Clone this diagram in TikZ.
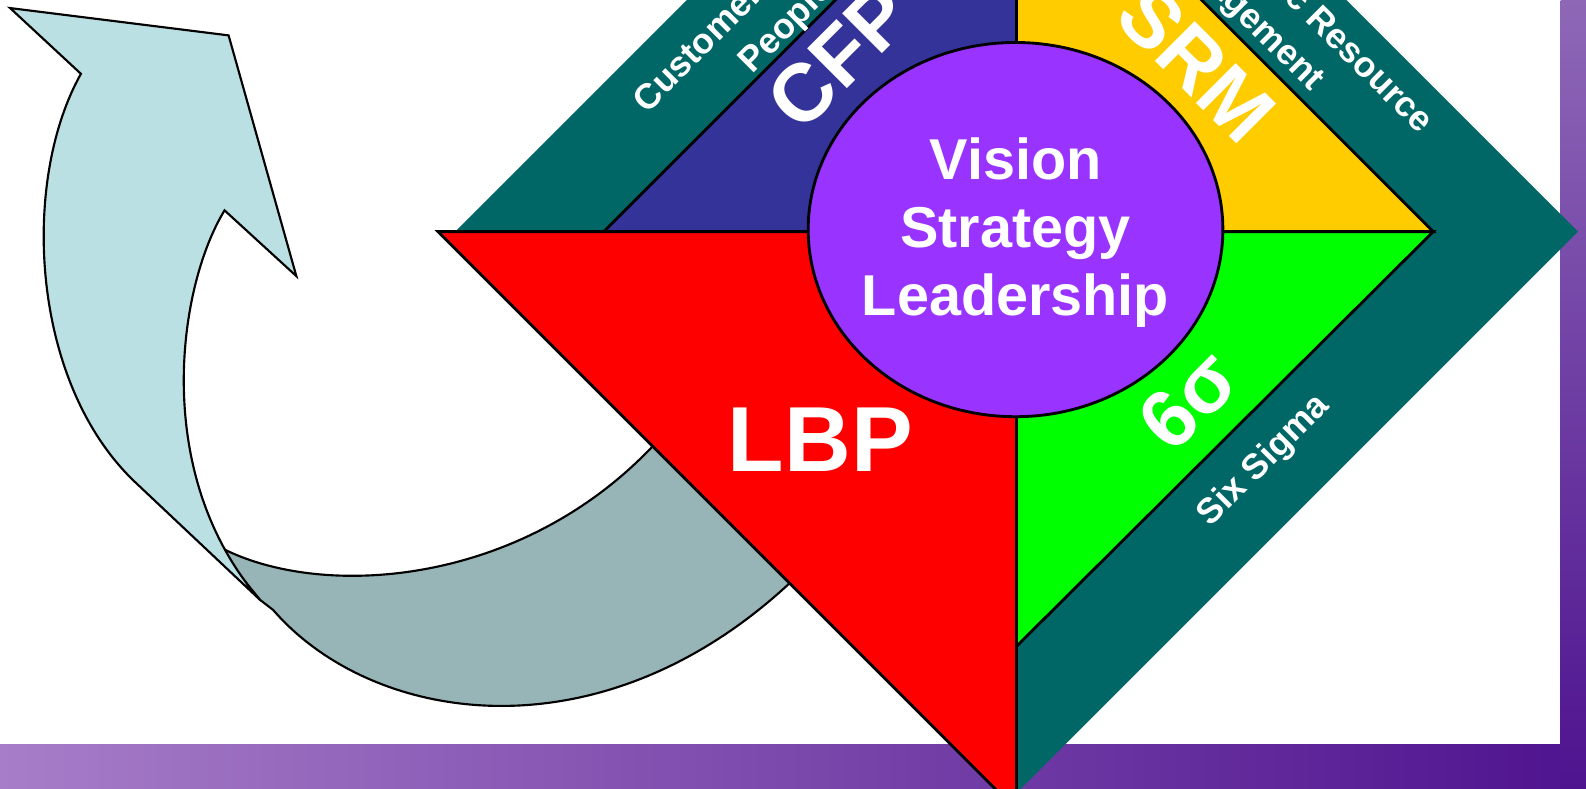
\documentclass[tikz,border=0pt]{standalone}
\usepackage{fontspec}
\setmainfont{Liberation Sans}
\definecolor{tealband}{HTML}{006666}
\definecolor{cfpblue}{HTML}{333399}
\definecolor{srmyellow}{HTML}{FFCC00}
\definecolor{sigmagreen}{HTML}{00FF00}
\definecolor{lbpred}{HTML}{FF0000}
\definecolor{corepurple}{HTML}{9933FF}
\definecolor{arrowfront}{HTML}{BBE0E3}
\definecolor{arrowback}{HTML}{97B4B6}
\definecolor{framelight}{HTML}{A77DC8}
\definecolor{frametop}{HTML}{8E68B7}
\definecolor{framedark}{HTML}{4E138F}

\begin{document}
\begin{tikzpicture}[x=0.1mm, y=-0.1mm,
                    quadrant/.style={draw=black, line width=0.8pt, line join=miter},
                    ribbon/.style={draw=black, line width=0.6pt, line join=miter},
                    coretext/.style={text=white, align=center, inner sep=0pt, font=\fontsize{16.2}{19.2}\selectfont\bfseries},
                    bigtag/.style={text=white, inner sep=0pt, font=\fontsize{26}{30}\selectfont\bfseries},
                    midtag/.style={text=white, inner sep=0pt, font=\fontsize{23}{27}\selectfont\bfseries},
                    bandtag/.style={text=white, inner sep=0pt, font=\fontsize{10}{13}\selectfont\bfseries}]

    \useasboundingbox (0,0) rectangle (1568,780);
    \clip (0,0) rectangle (1568,780);
    \fill[white] (0,0) rectangle (1568,780);

    % Purple frame
    \shade[left color=framelight, right color=framedark] (0,736) rectangle (1568,780);
    \shade[top color=frametop, bottom color=framedark] (1543,0) rectangle (1568,780);

    % Curved arrow
    \draw[ribbon, fill=arrowback] (212,538) .. controls (320,600) and (560,580) .. (690,385)
        -- (850,500) .. controls (650,760) and (380,730) .. (270,603) -- (257,593) -- cycle;
    \draw[ribbon, fill=arrowfront] (10,8) -- (226,35) -- (293,273) -- (222,208)
        .. controls (175,285) and (150,470) .. (257,593) -- (135,478)
        .. controls (30,380) and (20,180) .. (80,73) -- cycle;

    % Outer band
    \fill[tealband] (450,229) -- (1005,-326) -- (1560,229) -- (1005,784) -- cycle;

    % Quadrants
    \draw[quadrant, fill=cfpblue] (597,229) -- (1005,-179) -- (1005,229) -- cycle;
    \draw[quadrant, fill=srmyellow] (1005,229) -- (1005,-183) -- (1417,229) -- cycle;
    \draw[quadrant, fill=sigmagreen] (1005,229) -- (1417,229) -- (1005,639) -- cycle;
    \draw[quadrant, fill=lbpred] (433,229) -- (1005,229) -- (1005,801) -- cycle;

    % Centre
    \draw[quadrant, fill=corepurple] (1004,227) ellipse [x radius=205, y radius=185];
    \node[coretext] (vsl) at (1004,230) {Vision\\Strategy\\Leadership};

    % Quadrant labels
    \node[bigtag] (lbp) at (811,435) {LBP};
    \node[midtag, rotate=45] (cfp) at (830,56) {CFP};
    \node[midtag, rotate=-45] (srm) at (1183,63) {SRM};
    \node[midtag, rotate=45] (sixs) at (1175,395) {6σ};

    % Band labels
    \node[bandtag, align=center, rotate=45] (cfptext) at (762,10) {Customer Focused\\People};
    \node[bandtag, align=left, rotate=-45] (srmtext) at (1280,30) {Strategic Resource\\Management};
    \node[bandtag, rotate=45] (sstext) at (1250,456) {Six Sigma};

\end{tikzpicture}
\end{document}
